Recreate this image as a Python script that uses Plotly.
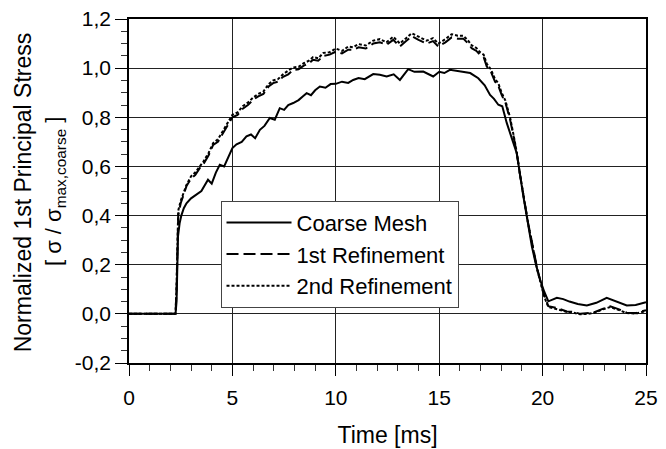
import plotly.graph_objects as go

# ---- data ----
t_coarse = [0, 2.25, 2.3, 2.37, 2.45, 2.53, 2.65, 2.78, 3.0, 3.26, 3.5, 3.82, 4.0, 4.2, 4.39, 4.6, 4.8,
            5.0, 5.2, 5.45, 5.68, 5.9, 6.1, 6.33, 6.55, 6.81, 7.05, 7.29, 7.5, 7.7, 7.94, 8.2, 8.4, 8.59,
            8.8, 9.0, 9.23, 9.5, 9.75, 10.0, 10.3, 10.6, 10.84, 11.1, 11.4, 11.81, 12.13, 12.46, 12.8,
            13.1, 13.5, 13.8, 14.23, 14.5, 14.71, 15.0, 15.25, 15.52, 15.8, 16.17, 16.5, 16.89, 17.2,
            17.46, 17.65, 17.86, 18.05, 18.27, 18.5, 18.75, 19.07, 19.28, 19.48, 19.68, 19.88, 20.08,
            20.28, 20.69, 21.0, 21.3, 21.7, 22.14, 22.6, 23.1, 23.6, 24.07, 24.5, 25.0]
v_coarse = [0, 0, 0.05, 0.315, 0.37, 0.40, 0.43, 0.45, 0.47, 0.485, 0.50, 0.546, 0.53, 0.575, 0.607,
            0.60, 0.64, 0.675, 0.69, 0.70, 0.722, 0.73, 0.715, 0.749, 0.765, 0.797, 0.79, 0.837, 0.83,
            0.85, 0.858, 0.87, 0.885, 0.898, 0.89, 0.91, 0.925, 0.92, 0.935, 0.936, 0.945, 0.94, 0.952,
            0.96, 0.955, 0.976, 0.973, 0.966, 0.975, 0.952, 0.996, 0.985, 0.986, 0.975, 0.966, 0.985,
            0.98, 0.993, 0.99, 0.986, 0.98, 0.959, 0.93, 0.891, 0.875, 0.851, 0.845, 0.776, 0.72,
            0.654, 0.478, 0.38, 0.275, 0.2, 0.139, 0.09, 0.051, 0.065, 0.06, 0.05, 0.04, 0.034, 0.045,
            0.065, 0.05, 0.034, 0.036, 0.047]

t_ref = [0, 2.25, 2.3, 2.38, 2.5, 2.65, 2.78, 3.0, 3.2, 3.42, 3.6, 3.85, 4.07, 4.3, 4.55, 4.8, 5.0,
         5.25, 5.5, 5.75, 6.0, 6.25, 6.5, 6.75, 6.97, 7.2, 7.45, 7.7, 7.94, 8.2, 8.45, 8.7, 8.9, 9.15,
         9.4, 9.7, 10.0, 10.3, 10.6, 10.84, 11.1, 11.45, 11.81, 12.13, 12.45, 12.78, 13.1, 13.4, 13.67,
         14.0, 14.39, 14.7, 14.96, 15.3, 15.6, 15.9, 16.17, 16.4, 16.57, 16.8, 16.97, 17.15, 17.3,
         17.5, 17.7, 17.85, 18.02, 18.2, 18.43, 18.6, 18.75, 18.9, 19.07, 19.3, 19.56, 19.75, 19.96,
         20.1, 20.28, 20.69, 21.17, 21.5, 21.82, 22.15, 22.46, 22.9, 23.27, 23.7, 24.07, 24.5, 25.0]
v_ref1 = [0, 0, 0.1, 0.4, 0.45, 0.49, 0.52, 0.55, 0.565, 0.593, 0.61, 0.645, 0.688, 0.70, 0.735, 0.77,
          0.80, 0.81, 0.835, 0.85, 0.871, 0.885, 0.895, 0.925, 0.939, 0.945, 0.965, 0.975, 0.993,
          0.995, 1.01, 1.02, 1.034, 1.03, 1.05, 1.055, 1.067, 1.06, 1.075, 1.074, 1.085, 1.08, 1.10,
          1.105, 1.095, 1.115, 1.088, 1.11, 1.13, 1.115, 1.10, 1.11, 1.088, 1.105, 1.125, 1.12, 1.12,
          1.10, 1.081, 1.07, 1.054, 1.045, 1.007, 0.985, 0.945, 0.93, 0.891, 0.86, 0.79, 0.72, 0.654,
          0.57, 0.478, 0.37, 0.261, 0.18, 0.112, 0.07, 0.031, 0.024, 0.01, 0.008, 0.0, 0.002, 0.005,
          0.02, 0.031, 0.018, 0.005, 0.003, 0.015]
v_ref2 = [0, 0, 0.12, 0.42, 0.46, 0.50, 0.525, 0.56, 0.575, 0.60, 0.62, 0.655, 0.695, 0.71, 0.745,
          0.78, 0.81, 0.82, 0.845, 0.86, 0.88, 0.895, 0.905, 0.935, 0.95, 0.955, 0.975, 0.99, 1.003,
          1.005, 1.02, 1.03, 1.045, 1.04, 1.062, 1.065, 1.08, 1.07, 1.088, 1.085, 1.098, 1.092, 1.112,
          1.118, 1.105, 1.128, 1.1, 1.122, 1.142, 1.128, 1.112, 1.122, 1.1, 1.118, 1.138, 1.132, 1.132,
          1.112, 1.093, 1.082, 1.065, 1.055, 1.018, 0.995, 0.955, 0.94, 0.9, 0.868, 0.798, 0.726,
          0.658, 0.572, 0.478, 0.368, 0.258, 0.176, 0.108, 0.065, 0.028, 0.02, 0.008, 0.005, -0.002,
          0.0, 0.003, 0.018, 0.028, 0.015, 0.003, 0.001, 0.012]

series_names = ["Coarse Mesh", "1st Refinement", "2nd Refinement"]
x_ticks = [0, 5, 10, 15, 20, 25]
y_ticks = [-0.2, 0.0, 0.2, 0.4, 0.6, 0.8, 1.0, 1.2]
y_tick_labels = ["-0,2", "0,0", "0,2", "0,4", "0,6", "0,8", "1,0", "1,2"]

FONT = "Liberation Sans, Arial, sans-serif"

fig = go.Figure()
fig.add_trace(go.Scatter(x=t_coarse, y=v_coarse, mode="lines", name=series_names[0],
                         line=dict(color="black", width=2)))
fig.add_trace(go.Scatter(x=t_ref, y=v_ref1, mode="lines", name=series_names[1],
                         line=dict(color="black", width=2, dash="12px,5px")))
fig.add_trace(go.Scatter(x=t_ref, y=v_ref2, mode="lines", name=series_names[2],
                         line=dict(color="black", width=2, dash="3px,2px")))

fig.update_layout(
    width=666, height=449,
    margin=dict(l=129, r=20, t=19, b=86, autoexpand=False),
    paper_bgcolor="white", plot_bgcolor="white",
    separators=", ",
    font=dict(family=FONT, color="black", size=21),
    showlegend=True,
    legend=dict(x=0.177, y=0.472, xanchor="left", yanchor="top",
                bgcolor="white", bordercolor="#444", borderwidth=1,
                font=dict(family=FONT, size=22, color="black"),
                itemwidth=65),
    xaxis=dict(range=[0, 25], tickvals=x_ticks, ticks="outside", ticklen=11, tickwidth=1,
               tickcolor="black", showline=True, linecolor="black", linewidth=1.5, mirror=True,
               showgrid=True, gridcolor="#222", gridwidth=1, zeroline=False, automargin=False,
               tickfont=dict(size=21), ticklabelstandoff=4,
               minor=dict(dtick=1, ticks="outside", ticklen=6, tickcolor="#333", showgrid=False),
               title=dict(text="Time [ms]", font=dict(size=23), standoff=19)),
    yaxis=dict(range=[-0.2, 1.2], tickvals=y_ticks, ticktext=y_tick_labels, ticks="outside",
               ticklen=12, tickwidth=1, tickcolor="black", showline=True, linecolor="black",
               linewidth=1.5, mirror=True, showgrid=True, gridcolor="#222", gridwidth=1,
               zeroline=False, automargin=False, tickfont=dict(size=21),
               minor=dict(dtick=0.05, ticks="outside", ticklen=6, tickcolor="#333", showgrid=False)),
)

fig.add_annotation(text="Normalized 1st Principal Stress", xref="paper", yref="paper",
                   x=-0.2058, y=0.495, xanchor="center", yanchor="middle", textangle=-90,
                   showarrow=False, font=dict(family=FONT, size=23, color="black"))
fig.add_annotation(text="[ σ / σ<sub>max,coarse</sub> ]", xref="paper", yref="paper",
                   x=-0.143, y=0.50, xanchor="center", yanchor="middle", textangle=-90,
                   showarrow=False, font=dict(family=FONT, size=22, color="black"))

fig.write_html("out.html")
